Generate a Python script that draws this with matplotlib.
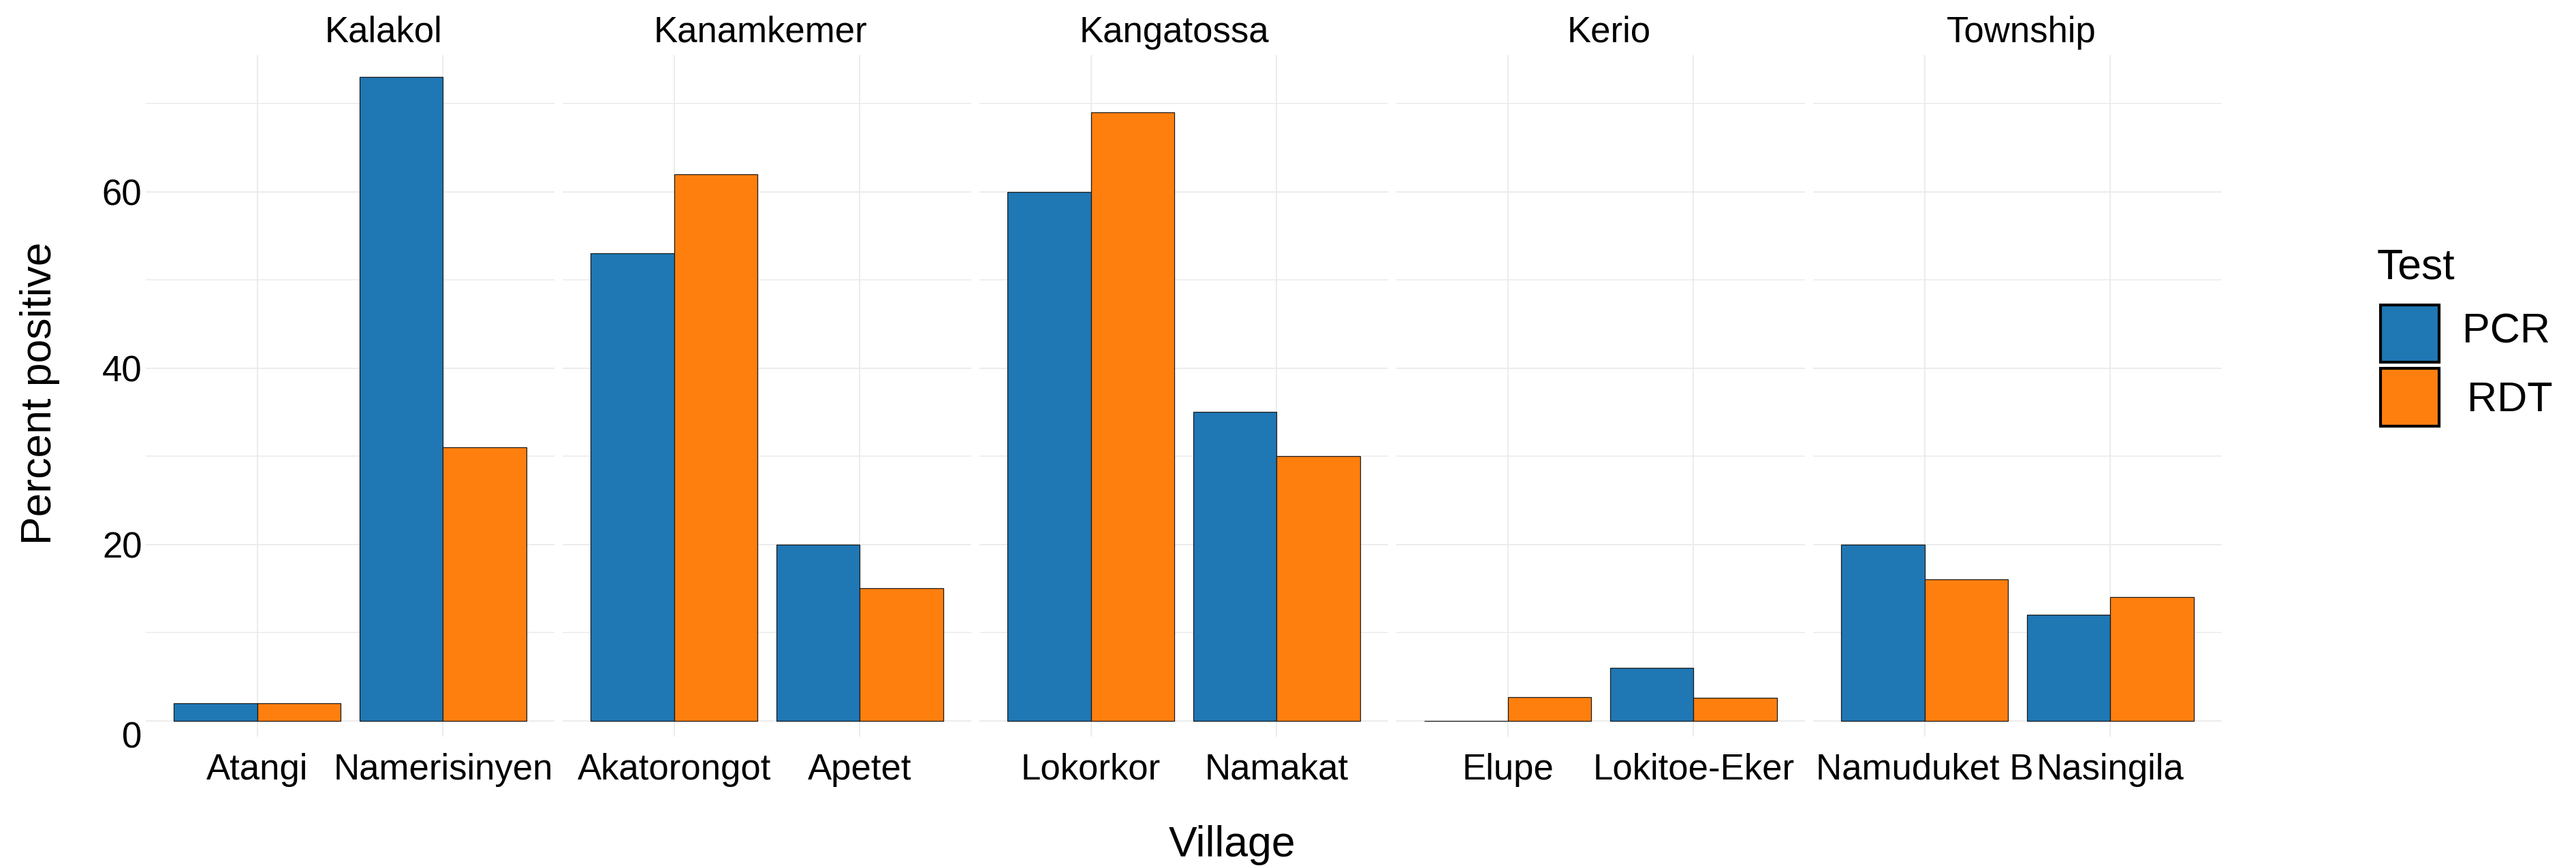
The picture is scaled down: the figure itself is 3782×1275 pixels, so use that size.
import matplotlib
matplotlib.use("Agg")
import matplotlib.pyplot as plt
import matplotlib.transforms as mtransforms
from matplotlib.patches import Rectangle
import numpy as np

plt.rcParams['font.family'] = ['Liberation Sans', 'DejaVu Sans']

# ---- data ----
districts = ["Kalakol", "Kanamkemer", "Kangatossa", "Kerio", "Township"]
villages = [["Atangi", "Namerisinyen"],
            ["Akatorongot", "Apetet"],
            ["Lokorkor", "Namakat"],
            ["Elupe", "Lokitoe-Eker"],
            ["Namuduket B", "Nasingila"]]
pcr = [[2, 73], [53, 20], [60, 35], [0, 6], [20, 12]]
rdt = [[2, 31], [62, 15], [69, 30], [2.7, 2.6], [16, 14]]
tests = ["PCR", "RDT"]
colors = ["#1f77b4", "#ff7f0e"]
yticks = [0, 20, 40, 60]
minor_yticks = [10, 30, 50, 70]

W, H = 3782, 1275
DPI = 100
fig = plt.figure(figsize=(W / DPI, H / DPI), dpi=DPI)

panel_left0 = 214
panel_w = 600
panel_step = 612
panel_top = 81
panel_bot = 1082
# horizontal centres of the strip titles as placed in the reference (pixels)
title_cx = [563, 1117, 1724, 2362, 2968]

grid_c = "#ebebeb"
axes = []
for i, d in enumerate(districts):
    lx = panel_left0 + i * panel_step
    ax = fig.add_axes([lx / W, 1 - panel_bot / H, panel_w / W, (panel_bot - panel_top) / H])
    axes.append(ax)
    x = np.arange(1, len(villages[i]) + 1)
    bw = 0.45
    ax.bar(x - bw / 2, pcr[i], width=bw, color=colors[0], edgecolor="#1a1a1a", linewidth=0.9, zorder=3)
    ax.bar(x + bw / 2, rdt[i], width=bw, color=colors[1], edgecolor="#1a1a1a", linewidth=0.9, zorder=3)
    ax.set_xlim(0.4, 2.6)
    ax.set_ylim(-1.8, 75.5)
    ax.set_xticks(x)
    ax.set_xticklabels(villages[i], fontsize=38)
    ax.set_yticks(yticks)
    ax.set_yticks(minor_yticks, minor=True)
    ax.grid(True, which="major", axis="both", color=grid_c, linewidth=1.3, zorder=0)
    ax.grid(True, which="minor", axis="y", color=grid_c, linewidth=1.1, zorder=0)
    ax.tick_params(axis="both", which="both", length=0)
    ax.tick_params(axis="x", pad=17)
    ax.tick_params(axis="y", pad=4, labelsize=38)
    for s in ax.spines.values():
        s.set_visible(False)
    if i == 0:
        labs = ax.get_yticklabels()
        # the "0" label sits a little lower in the reference
        off = mtransforms.ScaledTranslation(0, -20 / DPI, fig.dpi_scale_trans)
        labs[0].set_transform(labs[0].get_transform() + off)
    else:
        ax.set_yticklabels([])
    fig.text(title_cx[i] / W, 1 - 62 / H, d, fontsize=38, ha="center", va="baseline")

fig.text(59 / W, 1 - 578 / H, "Percent positive", fontsize=45, rotation=90,
         ha="center", va="center")
fig.text(1809 / W, 1 - 1258 / H, "Village", fontsize=45, ha="center", va="baseline")

# legend
fig.text(3490 / W, 1 - 409 / H, "Test", fontsize=45, ha="left", va="baseline")
key_y = [(446, 534), (539, 628)]
lab_x = [3615, 3622]
lab_base = [503, 604]
for j, t in enumerate(tests):
    y0, y1 = key_y[j]
    r = Rectangle((3495 / W, 1 - (y1 - 2) / H), 86 / W, (y1 - y0 - 4) / H,
                  transform=fig.transFigure, facecolor=colors[j],
                  edgecolor="black", linewidth=3.0)
    fig.patches.append(r)
    fig.text(lab_x[j] / W, 1 - lab_base[j] / H, t, fontsize=44, ha="left", va="baseline")

fig.savefig("out.png", dpi=DPI, facecolor="white")
